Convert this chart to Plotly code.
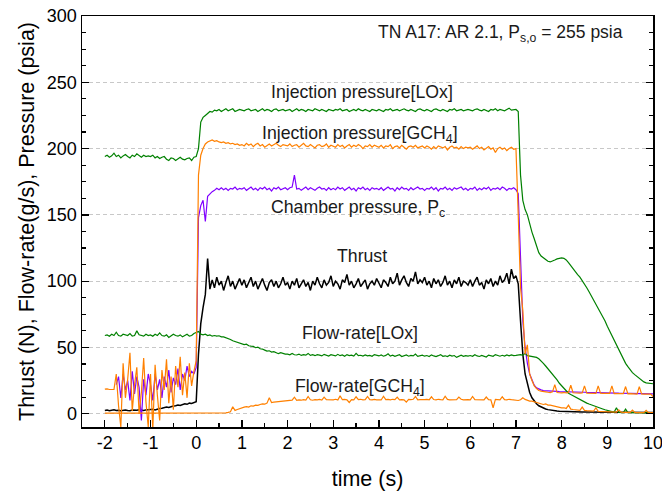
import numpy as np
import plotly.graph_objects as go

# time grid (s), 0.05 s sampling from -2 to 10
time_s = np.round(np.arange(241) * 0.05 - 2.0, 2)

# Injection pressure [LOx] (psia)
inj_lox = [
    194, 195, 193.5, 194.5, 196.5, 194, 195, 193, 194.5, 195.5, 194, 193, 195, 194, 196, 194.5, 193.5, 195, 194, 194.5,
    194, 195, 193, 194, 192.5, 193.5, 194, 192, 191, 193, 192.5, 191, 192, 193.5, 192, 191.5, 192.5, 193, 191, 193.5,
    194, 200, 220, 223.5, 225, 226.5, 228, 227.5, 229, 228.5, 229.5, 228, 229, 230, 228.5, 229, 230, 228, 229, 229.5,
    229, 228.5, 229.5, 230, 228.5, 229, 229.5, 228, 229, 230, 228.5, 229.5, 229, 228, 229.5, 230, 228.5, 229, 229.5, 228.5,
    229, 229.5, 228, 229, 230, 228.5, 229.5, 229, 228, 229.5, 229, 228.5, 230, 229, 228.5, 229.5, 229, 228, 229.5, 229,
    228.5, 229.5, 229, 230, 228.5, 229, 229.5, 228, 229, 229.5, 228.5, 230, 229, 228.5, 229.5, 229, 228, 229.5, 229, 228.5,
    229.5, 229, 228, 229.5, 229, 230, 228.5, 229, 229.5, 228.5, 229, 230, 229, 228.5, 229.5, 229, 228, 229.5, 230, 229,
    228.5, 229.5, 229, 228, 229.5, 230, 229, 228.5, 229.5, 229, 228, 229.5, 229, 230, 228.5, 229, 229.5, 228.5, 229, 229.5,
    229, 228.5, 229.5, 230, 229, 228.5, 229.5, 229, 228, 229.5, 229, 230, 228.5, 229.5, 229, 228.5, 229.5, 230.5, 229, 229.5,
    229.5, 228, 180, 161, 154, 150, 143, 137, 132, 126, 121.5, 119, 117.5, 116, 115, 114.5, 115, 116, 116.8, 117.3,
    117.5, 117.2, 116, 114, 111.5, 109, 107, 105, 103, 100.5, 98, 95, 92, 89, 86, 83, 80, 77, 73.5, 70,
    66, 62.5, 59, 55, 51, 47.5, 44, 41, 38, 35.5, 33, 31, 29.5, 28, 26.5, 25, 24, 23.3, 23, 22.7,
    22.6,
]

# Injection pressure [GCH4] (psia)
inj_ch4 = [
    18.5, 18.8, 18.3, 18.6, 18.4, 30, 6, -10, 38, 12, 26, 46, 2, 22, 35, 0, 16, 42, 9, -10,
    30, -12, 37, 14, -5, 33, 18, 41, 8, 28, 3, 36, 20, 43, 14, 31, 12, 38, 21, 32,
    40, 180, 195, 200, 203.5, 205, 206, 206.5, 205.5, 206, 205, 204.5, 205, 204, 204.5, 203.5, 204, 203, 203.5, 202.5,
    203, 202, 204, 202.5, 203.5, 201.5, 203, 204, 202, 203, 201, 202.5, 203.5, 202, 203, 204, 202.5, 201.5, 203, 202.5,
    202, 203.5, 201.5, 202.5, 203, 201, 202.5, 204, 202, 201.5, 203, 202, 200.5, 202.5, 203, 201.5, 202, 203.5, 201, 202.5,
    202, 201, 203, 201.5, 202.5, 200.5, 202, 203, 201, 202.5, 201.5, 203, 202, 200, 202, 201.5, 203, 201, 202.5, 201.5,
    201, 202.5, 200.5, 202, 201.5, 203, 200, 201.5, 202, 200.5, 202.5, 201, 199.5, 201.5, 202, 201, 202.5, 200.5, 201.5, 202,
    200.5, 202, 201, 199.5, 201.5, 200, 202, 201, 200.5, 201.5, 199, 201, 202, 200.5, 201, 199.5, 201.5, 200, 201, 200.5,
    201, 199.5, 200.5, 202, 200, 201, 199, 200.5, 201.5, 199.5, 200.5, 197, 200, 201, 199.5, 200.5, 198.5, 200, 201, 199.5,
    200, 150, 95, 78, 45, 52, 30, 25, 21, 19, 17.5, 17, 16.5, 16.5, 16.2, 16, 16.5, 22, 16, 15.8,
    15.8, 16, 15.7, 16, 21.5, 15.8, 15.6, 15.8, 15.5, 15.7, 21, 15.6, 15.4, 15.6, 15.5, 15.3, 21, 15.5, 15.3, 15.4,
    15.2, 15.4, 21, 15.2, 15.1, 15.3, 15, 15.2, 20.5, 15, 15.1, 14.9, 15, 14.8, 20.5, 15, 14.8, 14.9, 14.7, 14.8,
    13,
]

# Chamber pressure Pc (psia)
p_chamber = [
    None, None, None, None, None, 22, 28, 12, 30, 18, 25, 10, 32, 15, 28, 20, -5, 26, 14, 30,
    22, 10, 30, 18, 26, 12, 28, 20, 33, 16, 27, 22, 34, 18, 30, 25, 36, 28, 32, 30,
    35, 148, 157, 161, 145, 164, 166, 167.5, 168.5, 170, 169, 170.5, 169, 170, 168.5, 170, 169.5, 171, 169, 170,
    169.5, 170.5, 168.5, 170, 171, 169, 170, 168.5, 170.5, 169.5, 171, 169, 170, 168, 170.5, 169.5, 171, 169, 170, 170.5,
    169, 170.5, 171, 180, 169.5, 170, 168.5, 170, 171, 169, 170.5, 169.5, 168.5, 170, 171, 169.5, 170, 168.5, 170.5, 169,
    170, 169, 171, 169.5, 170.5, 168.5, 170, 171, 169, 170, 168, 170.5, 169.5, 171, 169, 170, 168.5, 170.5, 169.5, 170,
    169, 170.5, 168.5, 170, 171, 169.5, 170, 168, 170.5, 169, 171, 169.5, 170, 168.5, 170.5, 169, 170, 171, 169.5, 170,
    168.5, 170, 169.5, 171, 169, 170.5, 168, 170, 169.5, 171, 169, 170, 168.5, 170.5, 169.5, 170, 171, 169, 170, 168.5,
    170, 169.5, 171, 168.5, 170, 169, 170.5, 169.5, 171, 168.5, 170, 169.5, 170.5, 169, 171, 170, 168.5, 170, 169.5, 170.5,
    169, 166, 110, 70, 50, 38, 30, 25, 21.5, 19.5, 18.5, 18, 17.5, 17.3, 17.2, 17, 17, 16.8, 16.8, 16.7,
    16.7, 16.6, 16.6, 16.5, 16.5, 16.4, 16.4, 16.3, 16.3, 16.2, 16.2, 16.1, 16.1, 16, 16, 16, 15.9, 15.9, 15.8, 15.8,
    15.8, 15.7, 15.7, 15.6, 15.6, 15.5, 15.5, 15.5, 15.4, 15.4, 15.4, 15.3, 15.3, 15.3, 15.2, 15.2, 15.2, 15.1, 15.1, 15.1,
    15.0,
]

# Thrust (N)
thrust = [
    2.5, 2.8, 2.3, 2.6, 3.0, 2.4, 2.7, 2.2, 2.6, 2.9, 2.5, 2.3, 2.8, 2.5, 2.7, 3.0, 2.6, 2.4, 2.9, 3.1,
    3.0, 3.3, 2.8, 3.5, 3.9, 4.2, 4.6, 5.0, 4.7, 5.4, 5.8, 6.1, 6.6, 6.2, 7.0, 7.5, 7.1, 8.0, 7.7, 8.5,
    9, 45, 68, 80, 90, 117, 94, 101, 95, 103, 97, 100, 93, 99, 104, 96, 100, 94, 98, 102,
    97, 101, 95, 99, 103, 96, 100, 94, 98, 102, 97, 93, 99, 101, 96, 100, 95, 98, 103, 97,
    99, 94, 100, 97, 102, 95, 98, 101, 96, 99, 93, 100, 97, 103, 98, 95, 101, 97, 99, 104,
    96, 100, 98, 94, 101, 99, 105, 97, 100, 95, 98, 102, 96, 99, 101, 94, 98, 100, 97, 102,
    98, 95, 101, 99, 96, 103, 98, 100, 106, 97, 101, 104, 99, 96, 102, 100, 107, 98, 101, 99,
    103, 97, 100, 95, 102, 98, 101, 96, 99, 104, 97, 100, 95, 101, 98, 103, 96, 100, 99, 97,
    101, 96, 100, 103, 97, 99, 94, 101, 98, 102, 96, 100, 97, 104, 99, 101, 106, 98, 109, 102,
    104, 98, 70, 45, 30, 22, 16, 12, 9.5, 7.5, 6, 5, 4.2, 3.6, 3.1, 2.7, 2.4, 2.2, 2.0, 1.9,
    1.8, 1.8, 1.7, 1.7, 1.6, 1.6, 1.5, 1.5, 1.5, 1.4, 1.4, 1.4, 1.3, 1.3, 1.3, 1.3, 1.2, 1.2, 1.2, 1.2,
    1.2, 1.2, 1.1, 1.1, 1.1, 1.1, 1.1, 1.1, 1.0, 1.0, 1.0, 1.0, 1.0, 1.0, 1.0, 1.0, 1.0, 1.0, 1.0, 1.0,
    1.0,
]

# Flow-rate [LOx] (g/s)
flow_lox = [
    59, 59.5, 58.5, 60, 59, 61.5, 59, 58.5, 60, 59.5, 59, 60.5, 58.5, 59, 62.5, 59.5, 59, 58.5, 60, 59,
    59.5, 58.5, 60, 59, 61, 59, 58.5, 59.5, 57.5, 59, 60, 59, 58.5, 59.5, 58, 59, 60, 58.5, 59, 60.5,
    61, 62, 60, 59.5, 60, 59, 59.5, 58.5, 59, 58.5, 58.8, 58, 58, 57.5, 56.5, 56, 55, 54.5, 54, 53.5,
    53, 52.2, 52.5, 51.3, 51, 50.8, 49.8, 50.3, 49, 48.8, 48, 47.2, 47.5, 46.5, 46.8, 46, 45.3, 46, 45.2, 45,
    45, 44.5, 45.5, 44.5, 44.3, 45, 44, 44.6, 44.2, 45.5, 44, 44.5, 43.8, 44.6, 44.2, 43.6, 44.8, 44, 43.5, 44.5,
    44, 43.6, 44.8, 43.8, 44.3, 43.4, 44.6, 43.9, 44.2, 43.5, 45.5, 43.8, 44.1, 43.5, 44.4, 43.7, 44, 43.3, 44.6, 43.9,
    43.6, 44.3, 43.4, 44, 45.2, 43.5, 44.1, 43.3, 43.9, 44.5, 43.2, 43.8, 44.3, 43.4, 44, 43.6, 45, 43.3, 43.9, 44.2,
    43.4, 43.9, 43.2, 44.4, 43.6, 43.1, 43.8, 44.6, 43.3, 43.7, 43.1, 44.2, 43.5, 43.9, 42.5, 43.6, 44.1, 43.3, 43.8, 43.4,
    43.9, 43.3, 44.5, 43.6, 43.2, 44, 43.5, 42.8, 44.2, 43.6, 43.3, 44.6, 43.8, 43.4, 44.1, 43.5, 44.3, 43.7, 44.4, 43.9,
    44, 44.3, 44.6, 44, 45.5, 43.8, 43.5, 43.2, 43, 42.5, 41.5, 40, 38, 36, 34, 32, 30, 27.5, 25.5, 23,
    21, 19, 17, 15.5, 14.5, 13.5, 12.5, 11.5, 10.5, 9.5, 8.8, 8, 7.3, 6.6, 6, 5.5, 5, 4.3, 3.6, 3,
    2.4, 2, 1.6, 1.2, 4.5, 1, 0.9, 0.8, 3.5, 0.8, 0.8, 0.7, 0.7, 0.7, 0.6, 0.6, 0.6, 0.6, 0.6, 0.6,
    0.6,
]

# Flow-rate [GCH4] (g/s)
flow_ch4 = [
    0.5, 0.6, 0.4, 0.5, 0.6, 0.5, 0.4, 0.5, 0.6, 0.5, 0.4, 0.6, 0.5, 0.5, 0.4, 0.6, 0.5, 0.5, 0.4, 0.5,
    0.5, 0.6, 0.5, 0.4, 0.5, 0.6, 0.5, 0.5, 0.4, 0.6, 0.5, 0.5, 0.4, 0.5, 0.6, 0.5, 0.5, 0.4, 0.6, 0.5,
    0.5, 0.6, 0.5, 0.5, 0.4, 0.6, 0.5, 0.5, 0.6, 0.5, 0.5, 0.6, 0.5, 0.7, 1.0, 1.5, 5.3, 2.5, 3.2, 4.0,
    4.5, 5.0, 5.3, 5.0, 6.0, 5.8, 6.5, 6.3, 7.0, 7.5, 7.2, 8.0, 12, 8.5, 8.8, 9.0, 9.3, 9.1, 9.6, 9.9,
    10, 9.8, 10.3, 12.5, 10.1, 10.4, 10.2, 10.6, 10.3, 13, 10.5, 10.2, 10.6, 10.4, 10.8, 10.3, 12.5, 10.6, 10.4, 10.7,
    10.5, 10.9, 10.4, 13.5, 10.6, 10.8, 10.5, 8.5, 10.7, 10.4, 12.8, 10.6, 10.9, 10.5, 10.7, 13, 10.6, 10.4, 10.8, 10.5,
    10.7, 10.4, 13.2, 10.6, 10.8, 10.5, 10.9, 10.6, 12.5, 10.4, 10.7, 10.5, 8.8, 10.8, 10.6, 10.9, 13, 10.5, 10.7, 10.4,
    10.6, 10.8, 10.5, 12.8, 10.7, 10.4, 10.9, 10.6, 10.5, 13.2, 10.8, 10.5, 10.7, 10.4, 10.6, 12.5, 10.9, 10.5, 10.7, 10.6,
    10.4, 13, 10.7, 10.5, 10.8, 10.6, 10.4, 12.6, 10.7, 10.5, 4.5, 10.8, 10.6, 10.4, 12.8, 10.7, 10.5, 10.9, 10.6, 10.4,
    10.5, 10, 10.5, 12, 10.8, 10, 9.5, 9.5, 9, 8.5, 8, 7.5, 7, 7.5, 6.5, 6.5, 6, 5.5, 5.5, 5,
    4.5, 4.5, 4, 6.5, 3.5, 3.2, 3, 2.8, 2.6, 5, 2.5, 2.3, 2.2, 2, 2, 4.5, 1.8, 1.7, 1.6, 1.5,
    1.5, 1.4, 1.3, 1.3, 1.2, 3, 1.2, 1.1, 1.1, 1, 1, 2.8, 1, 0.9, 0.9, 0.9, 0.8, 2.5, 0.8, 0.8,
    0.8,
]

# tick labels
x_ticks = [-2, -1, 0, 1, 2, 3, 4, 5, 6, 7, 8, 9, 10]
y_ticks = [0, 50, 100, 150, 200, 250, 300]

GREEN = "rgb(0,128,0)"
ORANGE = "rgb(255,128,0)"
PURPLE = "rgb(128,0,255)"
BLACK = "black"

series = [
    (thrust, BLACK, 1.5),
    (p_chamber, PURPLE, 1.2),
    (flow_lox, GREEN, 1.2),
    (inj_lox, GREEN, 1.2),
    (flow_ch4, ORANGE, 1.2),
    (inj_ch4, ORANGE, 1.2),
]
for s, _, _ in series:
    assert len(s) == len(time_s), len(s)

fig = go.Figure()
for vals, col, w in series:
    fig.add_trace(go.Scatter(x=time_s, y=vals, mode="lines",
                             line=dict(color=col, width=w),
                             connectgaps=False, hoverinfo="skip"))

FONT = "Liberation Sans, Arial, sans-serif"
labels = [
    (3.62, 243, "Injection pressure[LOx]"),
    (3.58, 211, "Injection pressure[GCH<sub>4</sub>]"),
    (3.55, 155, "Chamber pressure, P<sub>c</sub>"),
    (3.62, 119, "Thrust"),
    (3.59, 61, "Flow-rate[LOx]"),
    (3.59, 20, "Flow-rate[GCH<sub>4</sub>]"),
]
for x, y, txt in labels:
    fig.add_annotation(x=x, y=y, text=txt, showarrow=False, xanchor="center",
                       yanchor="middle", font=dict(family=FONT, size=17.7, color="#1a1a1a"))
fig.add_annotation(x=9.39, y=287, text="TN A17: AR 2.1, P<sub>s,o</sub> = 255 psia",
                   showarrow=False, xanchor="right", yanchor="middle",
                   font=dict(family=FONT, size=17.5, color="#1a1a1a"))

fig.update_layout(
    width=662, height=492,
    margin=dict(l=82, r=9, t=16, b=65),
    plot_bgcolor="white", paper_bgcolor="white",
    showlegend=False,
    font=dict(family=FONT, size=18, color="black"),
)
fig.update_xaxes(
    automargin=False,
    range=[-2.5, 10], tickmode="array", tickvals=x_ticks, ticktext=[str(v) for v in x_ticks],
    ticks="inside", ticklen=7, tickwidth=1.3, tickcolor="black",
    showline=True, linecolor="black", linewidth=1.5, mirror=True,
    showgrid=False, zeroline=False, ticklabeloverflow="allow",
    ticklabelstandoff=-1,
    minor=dict(ticks="inside", tick0=0, dtick=0.5, ticklen=4, tickwidth=1.2, tickcolor="black", showgrid=False),
    title=dict(text="time (s)", font=dict(family=FONT, size=21.5), standoff=19),
    tickfont=dict(family=FONT, size=18),
)
fig.update_yaxes(
    automargin=False,
    range=[-10, 300], tickmode="array", tickvals=y_ticks, ticktext=[str(v) for v in y_ticks],
    ticks="inside", ticklen=7, tickwidth=1.3, tickcolor="black",
    showline=True, linecolor="black", linewidth=1.5, mirror="allticks",
    showgrid=True, gridcolor="#c8c8c8", gridwidth=1, griddash="4px,3px",
    zeroline=False, ticklabeloverflow="allow",
    minor=dict(ticks="inside", tick0=0, dtick=12.5, ticklen=4, tickwidth=1.2, tickcolor="black", showgrid=False),
    title=dict(text="Thrust (N), Flow-rate(g/s), Pressure (psia)", font=dict(family=FONT, size=21.5), standoff=6),
    tickfont=dict(family=FONT, size=18),
)

# remove the page's default 8px body margin so the figure sits at the window origin
fig.write_html("out.html", config={"displayModeBar": False, "staticPlot": True},
               post_script="document.body.style.margin='0px';")
